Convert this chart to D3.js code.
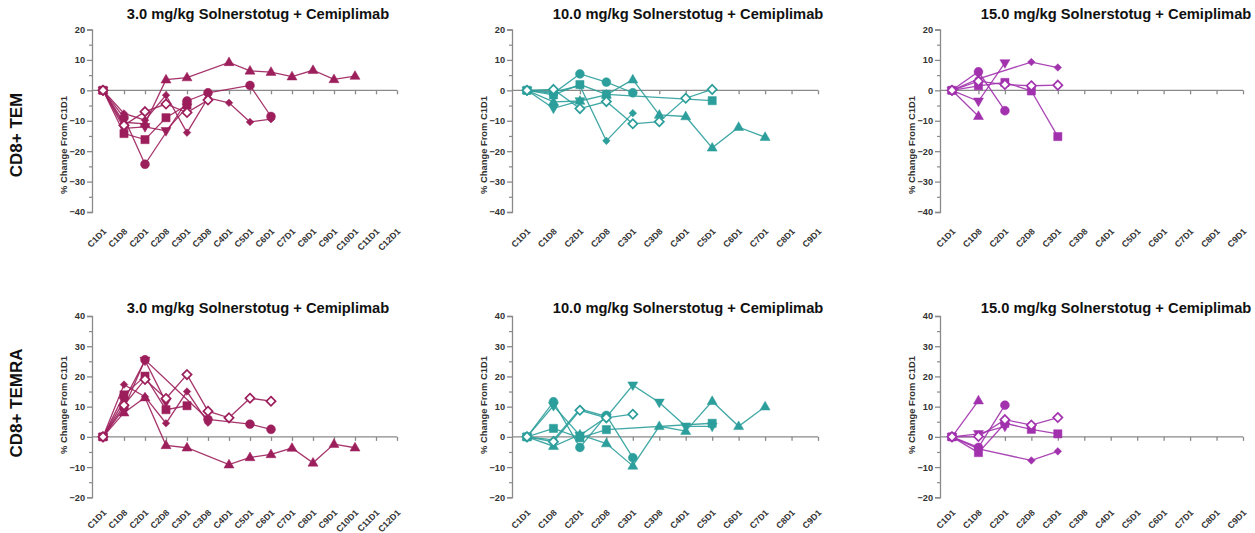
<!DOCTYPE html>
<html><head><meta charset="utf-8">
<script src="https://cdn.jsdelivr.net/npm/d3@7"></script>
<style>
body{margin:0;background:#fff;}
svg{display:block;font-family:"Liberation Sans",Arial,sans-serif;}
</style>
</head><body>
<svg id="c" width="1255" height="533"></svg>
<script>
// ---------- categories & ticks ----------
const catsLong = ["C1D1","C1D8","C2D1","C2D8","C3D1","C3D8","C4D1","C5D1","C6D1","C7D1","C8D1","C9D1","C10D1","C11D1","C12D1"];
const catsShort = ["C1D1","C1D8","C2D1","C2D8","C3D1","C3D8","C4D1","C5D1","C6D1","C7D1","C8D1","C9D1"];
const temTicks = [20,10,0,-10,-20,-30,-40];
const temraTicks = [40,30,20,10,0,-10,-20];
const titles = ["3.0 mg/kg Solnerstotug + Cemiplimab","10.0 mg/kg Solnerstotug + Cemiplimab","15.0 mg/kg Solnerstotug + Cemiplimab"];
const rowLabels = ["CD8+ TEM","CD8+ TEMRA"];
const yLabel = "% Change From C1D1";

// ---------- CD8+ TEM, 3.0 mg/kg ----------
const tem3TriUp   = [0,-10.5,-11,3.5,4.2,null,9.2,6.4,6.0,4.5,6.6,3.6,4.7];
const tem3Circle  = [0,-9,-24.3,null,-3.5,-0.8,null,1.6,-8.6];
const tem3Square  = [0,-14.2,-16.2,-9,-4.8];
const tem3TriDown = [0,-12.5,-12,-13.3,-5.5];
const tem3Diamond = [0,-7.6,-9.8,-1.6,-13.9,-2.5,-4.1,-10.4,-9.5];
const tem3OpenDia = [0,-11.5,-7,-4.5,-7.3,-3.2];
// ---------- CD8+ TEM, 10.0 mg/kg ----------
const tem10Circle  = [0,-1,5.4,2.7,-0.8];
const tem10Square  = [0,-1.5,1.9,-1.3,null,null,null,-3.4];
const tem10TriUp   = [0,-3.8,-3.5,-1.5,3.5,-8.1,-8.6,-18.9,-12.1,-15.4];
const tem10TriDown = [0,-5.9,-3.5];
const tem10Diamond = [0,-0.5,1.5,-16.6,-7.5];
const tem10OpenDia = [0,0.3,-6.0,-3.7,-11.0,-10.3,-2.6,0.3];
// ---------- CD8+ TEM, 15.0 mg/kg ----------
const tem15Circle  = [0,6.1,-6.7];
const tem15Square  = [0,1.5,2.6,-0.2,-15.2];
const tem15TriUp   = [0,-8.5];
const tem15TriDown = [0,-3.6,9.0];
const tem15Diamond = [0,3.8,null,9.3,7.5];
const tem15OpenDia = [0,3.0,1.9,1.5,1.7];
// ---------- CD8+ TEMRA, 3.0 mg/kg ----------
const temra3TriUp   = [0,8,13,-2.8,-3.6,null,-9.2,-6.8,-5.8,-3.7,-8.6,-2.4,-3.6];
const temra3Circle  = [0,9.5,25.5,null,null,5.8,null,4.2,2.5];
const temra3Square  = [0,13.9,20.1,9,10.3];
const temra3TriDown = [0,12,25.3,11.5];
const temra3Diamond = [0,17.3,13.3,4.5,15,4.7];
const temra3OpenDia = [0,10.5,19,12.7,20.6,8.5,6.3,12.8,11.8];
// ---------- CD8+ TEMRA, 10.0 mg/kg ----------
const temra10Circle  = [0,11.6,-3.5,7.1,-6.9];
const temra10Square  = [0,2.8,-0.3,2.4,null,null,null,4.5];
const temra10TriUp   = [0,-3.1,0.7,-2.2,-9.6,3.5,1.9,11.8,3.5,10.0];
const temra10TriDown = [0,10.3,0.5,6.5,17.1,11.4,3.5,3.5];
const temra10Diamond = [0,-1,9.2,6.8];
const temra10OpenDia = [0,-1.6,8.8,6.3,7.5];
// ---------- CD8+ TEMRA, 15.0 mg/kg ----------
const temra15Circle  = [0,-3.5,10.5];
const temra15Square  = [0,-5.2,4.5,2.5,1.0];
const temra15TriUp   = [0,12];
const temra15TriDown = [0,1.0,3.5];
const temra15Diamond = [0,-4,null,-7.8,-4.8];
const temra15OpenDia = [0,0.1,5.7,3.9,6.4];

// ---------- styles ----------
const doseColors = ["#9c1f5c","#2c9e9b","#a131ad"];
const axisColor = "#8a8a8a";
const textColor = "#333";

// ---------- panels ----------
const cols = [
  {yAxisX:92,  x0:103, x1:397,  cats:catsLong,  titleX:258},
  {yAxisX:512, x0:527, x1:818,  cats:catsShort, titleX:688},
  {yAxisX:940, x0:952, x1:1243, cats:catsShort, titleX:1116}
];
const rows = [
  {domain:[-40,20], top:29.5, bottom:212, ticks:temTicks, titleY:18.5, yLabelY:145, rowLabelY:135, xLabOff:20,
   data:[
     [tem3Circle,tem3Square,tem3TriUp,tem3TriDown,tem3Diamond,tem3OpenDia],
     [tem10Circle,tem10Square,tem10TriUp,tem10TriDown,tem10Diamond,tem10OpenDia],
     [tem15Circle,tem15Square,tem15TriUp,tem15TriDown,tem15Diamond,tem15OpenDia]]},
  {domain:[-20,40], top:316, bottom:497.3, ticks:temraTicks, titleY:312.5, yLabelY:405, rowLabelY:403, xLabOff:16,
   data:[
     [temra3Circle,temra3Square,temra3TriUp,temra3TriDown,temra3Diamond,temra3OpenDia],
     [temra10Circle,temra10Square,temra10TriUp,temra10TriDown,temra10Diamond,temra10OpenDia],
     [temra15Circle,temra15Square,temra15TriUp,temra15TriDown,temra15Diamond,temra15OpenDia]]}
];
const shapes = ["circle","square","triUp","triDown","diamond","openDia"];

function shapePath(s){
  switch(s){
    case "circle": return d3.symbol(d3.symbolCircle, 62)();
    case "square": return "M-4.1,-4.1H4.1V4.1H-4.1Z";
    case "triUp": return "M0,-5.4L5,3.3L-5,3.3Z";
    case "triDown": return "M0,5.4L5,-3.3L-5,-3.3Z";
    case "diamond": return "M0,-3.8L3.8,0L0,3.8L-3.8,0Z";
    case "openDia": return "M0,-4.6L4.6,0L0,4.6L-4.6,0Z";
  }
}

const svg = d3.select("#c");

rows.forEach((row, ri) => {
  svg.append("text")
    .attr("transform", `translate(22,${row.rowLabelY}) rotate(-90)`)
    .attr("text-anchor","middle")
    .attr("font-size",17).attr("font-weight","bold").attr("fill","#111")
    .text(rowLabels[ri]);

  cols.forEach((col, ci) => {
    const color = doseColors[ci];
    const g = svg.append("g");
    const x = d3.scalePoint().domain(col.cats).range([col.x0, col.x1]);
    const y = d3.scaleLinear().domain(row.domain).range([row.bottom, row.top]);

    g.append("text").attr("x", col.titleX).attr("y", row.titleY)
      .attr("text-anchor","middle").attr("font-size",14.7).attr("font-weight","bold")
      .attr("fill","#111").text(titles[ci]);

    g.append("text")
      .attr("transform", `translate(${col.yAxisX-25},${row.yLabelY}) rotate(-90)`)
      .attr("text-anchor","middle").attr("font-size",9.4).attr("font-weight","bold")
      .attr("fill",textColor).text(yLabel);

    const minor = d3.range(row.domain[0], row.domain[1]+0.1, 5).filter(v => v % 10 !== 0);
    const ya = g.append("g").attr("transform",`translate(${col.yAxisX},0)`)
      .call(d3.axisLeft(y).tickValues(row.ticks).tickSize(5).tickPadding(2).tickFormat(d3.format("d")));
    ya.select(".domain").attr("stroke",axisColor).attr("stroke-width",1.3);
    ya.selectAll(".tick line").attr("stroke",axisColor).attr("stroke-width",1.3);
    ya.selectAll(".tick text").attr("font-size",9.2).attr("font-weight","bold")
      .attr("fill",textColor).attr("font-family","Liberation Sans, Arial, sans-serif");
    const ym = g.append("g").attr("transform",`translate(${col.yAxisX},0)`)
      .call(d3.axisLeft(y).tickValues(minor).tickSize(3).tickFormat(""));
    ym.select(".domain").remove();
    ym.selectAll(".tick line").attr("stroke",axisColor).attr("stroke-width",1.2);

    g.append("line").attr("x1",col.yAxisX).attr("x2",col.x1)
      .attr("y1",y(0)).attr("y2",y(0)).attr("stroke",axisColor).attr("stroke-width",1.3);
    const xa = g.append("g").attr("transform",`translate(0,${y(0)})`)
      .call(d3.axisBottom(x).tickSize(4).tickFormat(""));
    xa.select(".domain").remove();
    xa.selectAll(".tick line").attr("stroke",axisColor).attr("stroke-width",1.3);

    g.selectAll(".xl").data(col.cats).enter().append("text")
      .attr("transform", d => `translate(${x(d)+4},${row.bottom+row.xLabOff}) rotate(-45)`)
      .attr("text-anchor","end").attr("font-size",8.8).attr("font-weight","bold")
      .attr("fill",textColor).text(d => d);

    const line = d3.line().x(d => x(d.c)).y(d => y(d.v));
    row.data[ci].forEach((vals) => {
      const pts = vals.map((v,i) => ({c: col.cats[i], v})).filter(d => d.v !== null);
      g.append("path").datum(pts).attr("d", line)
        .attr("fill","none").attr("stroke",color).attr("stroke-width",1.3).attr("opacity",0.9);
    });
    row.data[ci].forEach((vals, si) => {
      const pts = vals.map((v,i) => ({c: col.cats[i], v})).filter(d => d.v !== null);
      const s = shapes[si];
      g.selectAll(null).data(pts).enter().append("path")
        .attr("transform", d => `translate(${x(d.c)},${y(d.v)})`)
        .attr("d", shapePath(s))
        .attr("fill", s === "openDia" ? "#fff" : color)
        .attr("stroke", color).attr("stroke-width", s === "openDia" ? 1.7 : 0.5);
    });
  });
});
</script>
</body></html>
